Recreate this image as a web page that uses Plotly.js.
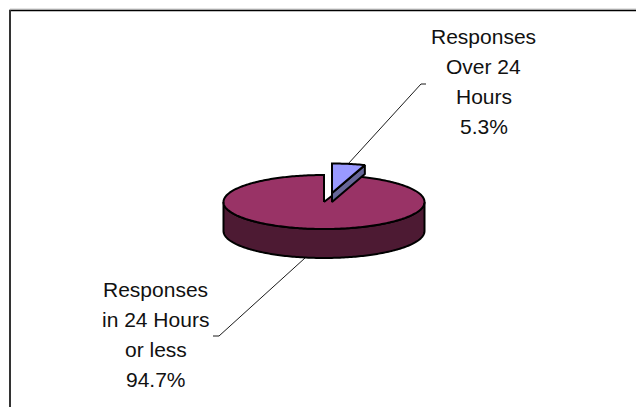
<!DOCTYPE html>
<html>
<head>
<meta charset="utf-8">
<script src="https://cdn.plot.ly/plotly-3.0.1.min.js"></script>
<style>html,body{margin:0;padding:0;background:#fff}#c{width:636px;height:407px}</style>
</head>
<body>
<div id="c"></div>
<script>
// Data
const categories = ["Responses Over 24 Hours", "Responses in 24 Hours or less"];
const shares = [5.3, 94.7];
const labelLines = [["Responses", "Over 24", "Hours"], ["Responses", "in 24 Hours", "or less"]];
const sliceColors = ["#9999ff", "#993366"];
const wallColors = ["#666699", "#4d1a33"];

// Projection of the tilted pie onto the pixel-scaled axes
const cx = 324, cy = 202, rx = 100.5, ry = 27, depth = 29;
const explode = [[8, -9], [0, 0]];
const total = shares.reduce((a, b) => a + b, 0);
const turn = s => s / total * 2 * Math.PI;
const px = (a, ox) => cx + ox + rx * Math.sin(a);
const py = (a, oy, ryy) => cy + oy - (ryy || ry) * Math.cos(a);

function arc(a0, a1, ox, oy, dz, ryy) {
  const n = Math.max(2, Math.ceil(Math.abs(a1 - a0) / 0.02));
  const xs = [], ys = [];
  for (let i = 0; i <= n; i++) {
    const a = a0 + (a1 - a0) * i / n;
    xs.push(px(a, ox));
    ys.push(py(a, oy, ryy) + dz);
  }
  return [xs, ys];
}
function poly(xs, ys, fill, name) {
  return {type: "scatter", mode: "lines", x: xs, y: ys, fill: "toself", fillcolor: fill,
          line: {color: "#000", width: 2, simplify: false}, name: name, hoverinfo: "name", showlegend: false};
}

const traces = [];
const a1 = turn(shares[0]);
const lineStyle = {color: "#1a1a1a", width: 1};

// Leader lines sit behind the pie
const leaders = [
  [[426, 421, 348], [84, 84, 164]],
  [[213, 219, 305], [336, 336, 258]]
];
leaders.forEach(l => traces.push({type: "scatter", mode: "lines", x: l[0], y: l[1], line: lineStyle, hoverinfo: "skip", showlegend: false}));

// Large slice: wall along the visible front rim, then top face
const frontStart = Math.PI / 2, frontEnd = 3 * Math.PI / 2;
const [fx, fy] = arc(frontStart, frontEnd, 0, 0, 0);
const [bx, by] = arc(frontEnd, frontStart, 0, 0, depth);
traces.push(poly(fx.concat(bx, [fx[0]]), fy.concat(by, [fy[0]]), wallColors[1], categories[1]));
const [mx, my] = arc(a1, 2 * Math.PI, 0, 0, 0);
traces.push(poly([cx].concat(mx, [cx]), [cy].concat(my, [cy]), sliceColors[1], categories[1]));

// Small exploded slice: cut wall, then top face
const [ox, oy] = explode[0];
const sliceRy = 29.5, wallDepth = 9;
const apexX = cx + ox, apexY = cy + oy;
const tipX = px(a1, ox), tipY = py(a1, oy, sliceRy);
traces.push(poly([apexX, tipX, tipX, apexX, apexX], [apexY, tipY, tipY + wallDepth, apexY + wallDepth, apexY], wallColors[0], categories[0]));
const [sx, sy] = arc(0, a1, ox, oy, 0, sliceRy);
traces.push(poly([apexX].concat(sx, [apexX]), [apexY].concat(sy, [apexY]), sliceColors[0], categories[0]));

// Labels: one annotation per line for the reference's wider line pitch
const labelPos = [[483.5, 36], [155.5, 289]];
const pitch = 30;
const annotations = [];
shares.forEach((v, i) => {
  labelLines[i].concat([v.toFixed(1) + "%"]).forEach((t, j) => {
    annotations.push({xref: "x", yref: "y", x: labelPos[i][0], y: labelPos[i][1] + j * pitch, text: t, showarrow: false,
      xanchor: "center", yanchor: "middle", font: {family: "Liberation Sans, Arial, sans-serif", size: 21, color: "#111"}});
  });
});

const layout = {
  width: 636, height: 407, margin: {l: 0, r: 0, t: 0, b: 0},
  paper_bgcolor: "#fff", plot_bgcolor: "#fff", showlegend: false,
  xaxis: {range: [0, 636], visible: false, fixedrange: true},
  yaxis: {range: [407, 0], visible: false, fixedrange: true},
  annotations,
  shapes: [
    {type: "line", xref: "x", yref: "y", x0: 10, x1: 636, y0: 9, y1: 9, line: {color: "#c8c8c8", width: 1}},
    {type: "line", xref: "x", yref: "y", x0: 9, x1: 636, y0: 10.5, y1: 10.5, line: {color: "#000", width: 1.5}},
    {type: "line", xref: "x", yref: "y", x0: 10, x1: 10, y0: 10, y1: 407, line: {color: "#333", width: 2}}
  ]
};
Plotly.newPlot("c", traces, layout, {displayModeBar: false, staticPlot: true});
</script>
</body>
</html>
